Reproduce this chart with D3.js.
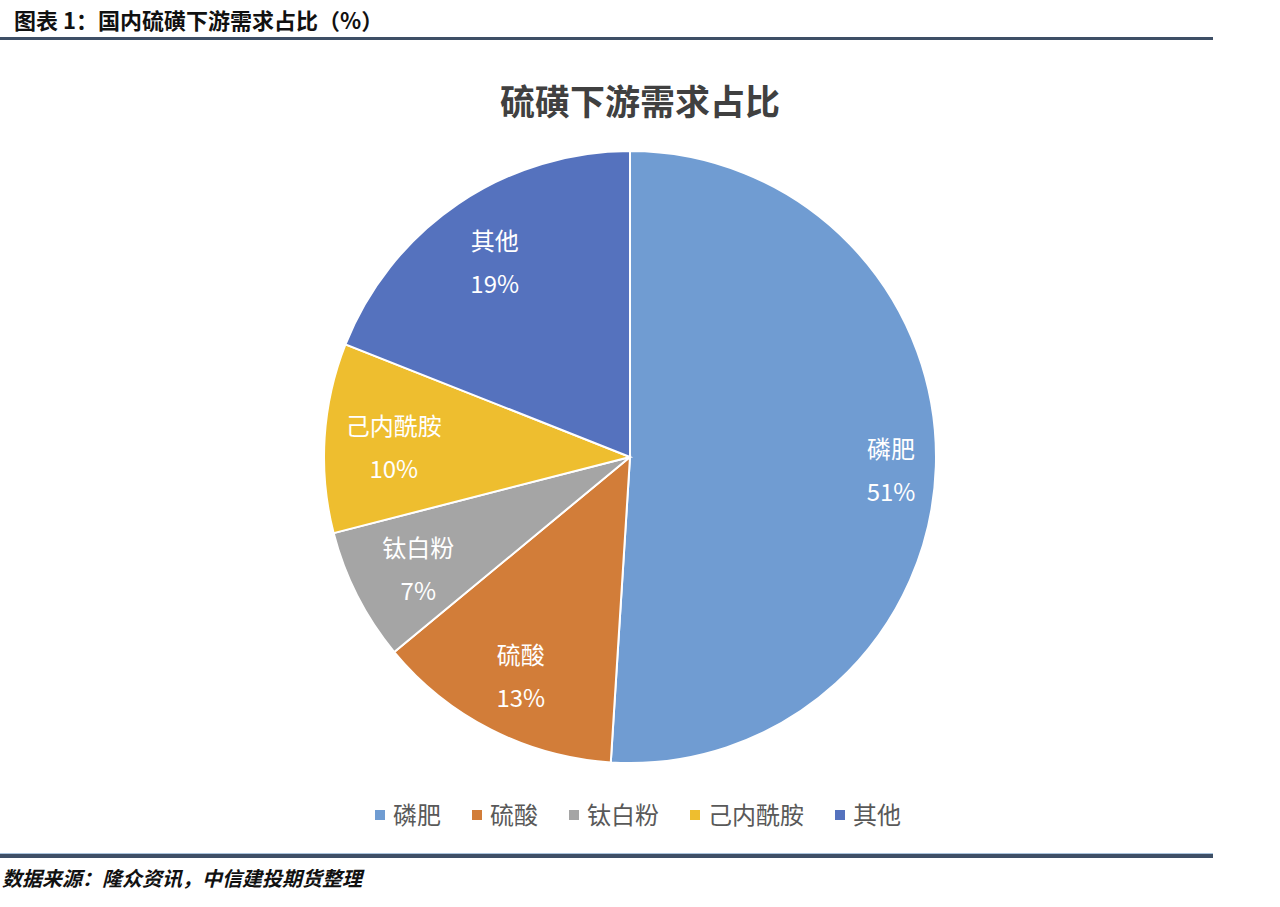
<!DOCTYPE html>
<html>
<head>
<meta charset="utf-8">
<script src="https://cdn.jsdelivr.net/npm/d3@7"></script>
<style>
  body { margin: 0; background: #fff; }
  svg { display: block; }
</style>
</head>
<body>
<div id="chart"></div>
<script>
const categories = ["磷肥", "硫酸", "钛白粉", "己内酰胺", "其他"];
const shares = [51, 13, 7, 10, 19];
const colors = ["#709CD2", "#D27D39", "#A5A5A5", "#EEBE2F", "#5572BE"];

const width = 1280;
const height = 907;
const cx = 630, cy = 457, radius = 306;
const cjk = "'Noto Sans CJK SC', 'Noto Sans', sans-serif";

const data = categories.map((c, i) => ({ category: c, value: shares[i] }));

const svg = d3.select("#chart")
    .append("svg")
    .attr("width", width)
    .attr("height", height)
    .style("font-family", cjk);

// header
svg.append("text")
    .attr("x", 14)
    .attr("y", 29)
    .attr("font-size", "22px")
    .attr("font-weight", "bold")
    .attr("fill", "#111")
    .text("图表 1：国内硫磺下游需求占比（%）");

svg.append("rect").attr("x", 0).attr("y", 37).attr("width", 1213).attr("height", 3).attr("fill", "#3E4F66");

// chart title
svg.append("text")
    .attr("x", 640)
    .attr("y", 115)
    .attr("text-anchor", "middle")
    .attr("font-size", "35px")
    .attr("font-weight", "bold")
    .attr("fill", "#404040")
    .text("硫磺下游需求占比");

const pie = d3.pie().value(d => d.value).sort(null);
const arc = d3.arc().innerRadius(0).outerRadius(radius);
const arcs = pie(data);

const g = svg.append("g").attr("transform", `translate(${cx},${cy})`);

g.selectAll(".slice")
    .data(arcs)
    .enter()
    .append("path")
    .attr("class", "slice")
    .attr("d", arc)
    .attr("fill", (d, i) => colors[i])
    .attr("stroke", "#fff")
    .attr("stroke-width", 2);

// labels placed inside the end of each slice (like Excel "inside end")
const fontSize = 24, lineGap = 43, pad = 16;
g.selectAll(".label")
    .data(arcs)
    .enter()
    .append("g")
    .attr("class", "label")
    .each(function(d) {
        const sel = d3.select(this);
        const t1 = sel.append("text").attr("text-anchor", "middle").attr("font-size", fontSize + "px")
            .attr("fill", "#fff").attr("y", -lineGap / 2 + 14).text(d.data.category);
        const t2 = sel.append("text").attr("text-anchor", "middle").attr("font-size", fontSize + "px")
            .attr("fill", "#fff").attr("y", lineGap / 2 + 14).text(d.data.value + "%");
        const w = Math.max(t1.node().getComputedTextLength(), t2.node().getComputedTextLength()) / 2;
        const h = 43;
        const a = (d.startAngle + d.endAngle) / 2;
        const ux = Math.sin(a), uy = -Math.cos(a);
        const c = [Math.sign(ux) * w, Math.sign(uy) * h];
        const uc = ux * c[0] + uy * c[1];
        const R = radius - pad;
        const t = -uc + Math.sqrt(uc * uc - (c[0] * c[0] + c[1] * c[1]) + R * R);
        sel.attr("transform", `translate(${t * ux},${t * uy})`);
    });

// legend
const legend = svg.append("g").attr("transform", "translate(0,815)");
let lx = 375;
categories.forEach((c, i) => {
    legend.append("rect").attr("x", lx).attr("y", -5).attr("width", 10).attr("height", 10).attr("fill", colors[i]);
    const txt = legend.append("text")
        .attr("x", lx + 18)
        .attr("y", 9)
        .attr("font-size", "24px")
        .attr("fill", "#595959")
        .text(c);
    lx += 18 + txt.node().getComputedTextLength() + 31;
});

// footer
svg.append("rect").attr("x", 0).attr("y", 853).attr("width", 1213).attr("height", 1).attr("fill", "#A9C3DD");
svg.append("rect").attr("x", 0).attr("y", 854).attr("width", 1213).attr("height", 4).attr("fill", "#3E4F66");
svg.append("text")
    .attr("x", 2)
    .attr("y", 886)
    .attr("font-size", "20px")
    .attr("font-weight", "bold")
    .attr("font-style", "italic")
    .attr("fill", "#111")
    .text("数据来源：隆众资讯，中信建投期货整理");
</script>
</body>
</html>
